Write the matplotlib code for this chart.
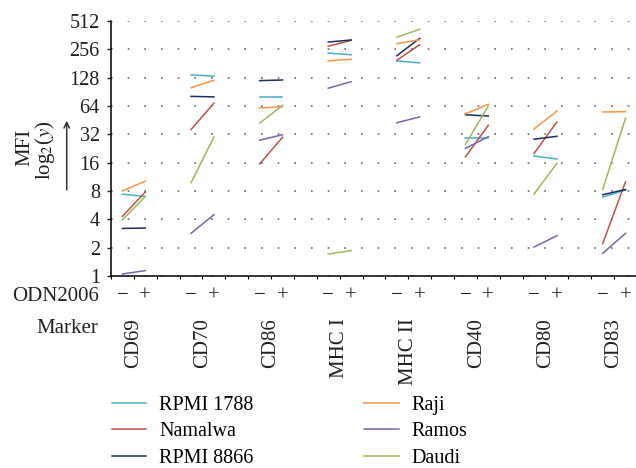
import matplotlib.pyplot as plt
import matplotlib.ticker as mticker

plt.rcParams['font.family'] = ['Liberation Serif', 'DejaVu Serif']
plt.rcParams['mathtext.fontset'] = 'stix'

markers = ["CD69", "CD70", "CD86", "MHC I", "MHC II", "CD40", "CD80", "CD83"]
yticks = [1, 2, 4, 8, 16, 32, 64, 128, 256, 512]

# MFI per marker: (ODN2006 -, ODN2006 +)
rpmi1788 = [(7.4, 7.0), (137, 133), (80, 80), (234, 224), (193, 184), (29.3, 29.3), (18.8, 17.5), (6.9, 8.2)]
namalwa = [(4.3, 7.8), (36, 68.5), (15.5, 29.8), (276, 319), (196, 287), (18.4, 40), (20.1, 43.3), (2.2, 10.0)]
rpmi8866 = [(3.2, 3.23), (81, 80), (119, 121), (306, 322), (219, 335), (51.7, 50), (28.4, 30.5), (7.3, 8.3)]
raji = [(8.0, 10.2), (100, 120), (61, 63), (193, 201), (294, 324), (53, 66.7), (36.5, 56.6), (55.3, 55.7)]
ramos = [(1.05, 1.14), (2.84, 4.48), (27.7, 31.7), (99, 116), (42.5, 49), (22.7, 30.2), (2.03, 2.68), (1.74, 2.84)]
daudi = [(3.95, 7.0), (9.8, 30), (42, 65), (1.71, 1.86), (345, 418), (25, 64), (7.4, 15.8), (8.3, 47.4)]

series = [
    ("RPMI 1788", rpmi1788, "#4bacc6"),
    ("Namalwa", namalwa, "#c0504d"),
    ("RPMI 8866", rpmi8866, "#1f2e5e"),
    ("Raji", raji, "#f79646"),
    ("Ramos", ramos, "#8064a2"),
    ("Daudi", daudi, "#9bbb59"),
]

fig = plt.figure(figsize=(6.36, 4.68), dpi=100)
ax = fig.add_axes([0.1745, 0.4103, 0.827, 0.5448])

for name, vals, col in series:
    for i, (lo, hi) in enumerate(vals):
        ax.plot([0.5 + 3 * i, 1.5 + 3 * i], [lo, hi], color=col, lw=1.1,
                label=name if i == 0 else None)

ax.set_yscale("log", base=2)
ax.set_ylim(1, 512)
ax.set_xlim(0, 23)
ax.set_yticks(yticks)
ax.yaxis.set_major_formatter(mticker.FixedFormatter([str(t) for t in yticks]))
ax.yaxis.set_minor_locator(mticker.NullLocator())
ax.set_xticks(range(24))
ax.set_xticklabels([])
ax.tick_params(axis="y", labelsize=14.5, length=3, width=1, pad=5, colors="#222222")
ax.tick_params(axis="x", length=2.5, width=0.8)
for s in ["top", "right"]:
    ax.spines[s].set_visible(False)
ax.spines["left"].set_linewidth(1.1)
ax.spines["bottom"].set_linewidth(1.1)
ax.yaxis.grid(True, color="#666666", linestyle=(0, (1, 9)), linewidth=1.2)
ax.set_axisbelow(True)

tr = ax.get_xaxis_transform()
for i, m in enumerate(markers):
    ax.text(0.5 + 3 * i, -0.078, "\u2212", transform=tr, ha="center", va="center", fontsize=15, color="#222222")
    ax.text(1.5 + 3 * i, -0.078, "+", transform=tr, ha="center", va="center", fontsize=15, color="#222222")
    ax.text(1.0 + 3 * i, -0.165, m, transform=tr, ha="center", va="top", rotation=90, fontsize=15, color="#222222")

fig.text(0.156, 0.3675, "ODN2006", ha="right", va="center", fontsize=15, color="#222222")
fig.text(0.154, 0.2991, "Marker", ha="right", va="center", fontsize=15, color="#222222")

fig.text(0.0393, 0.686, "MFI", rotation=90, ha="center", va="center", fontsize=15, color="#222222")
fig.text(0.0708, 0.6795, r"log$_2$($y$)", rotation=90, ha="center", va="center", fontsize=15, color="#222222")
fig.add_artist(plt.Annotation("", xy=(0.1049, 0.742), xytext=(0.1049, 0.594),
                              xycoords="figure fraction", textcoords="figure fraction",
                              arrowprops=dict(arrowstyle="->", color="#333333", lw=1.1,
                                              shrinkA=0, shrinkB=0)))

fig.legend(loc="upper left", bbox_to_anchor=(112 / 636, 1 - 396 / 468), ncol=2, frameon=False,
           fontsize=14.5, handlelength=1.7, handletextpad=0.65, columnspacing=5.5,
           labelspacing=0.36, borderpad=0, borderaxespad=0)

fig.savefig("out.png", dpi=100)
